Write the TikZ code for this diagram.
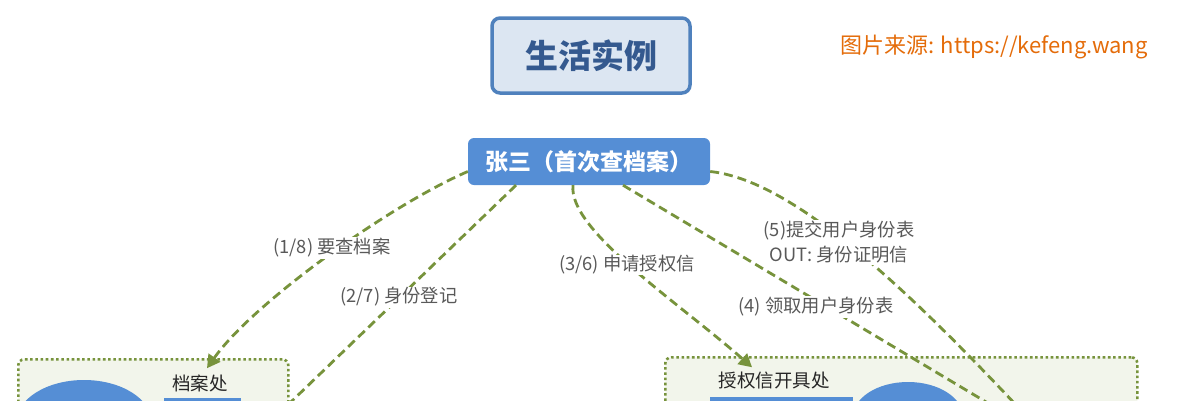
\documentclass[tikz,border=0pt]{standalone}
\usepackage{fontspec}
\setmainfont{Noto Sans CJK SC}
\usetikzlibrary{arrows.meta,calc,shapes.geometric}
\definecolor{lineol}{HTML}{77933C}
\definecolor{groupfill}{HTML}{F2F5EB}
\definecolor{boxblue}{HTML}{558ED5}
\definecolor{titlefill}{HTML}{DCE6F2}
\definecolor{titleline}{HTML}{4F81BD}
\definecolor{titletext}{HTML}{34598F}
\definecolor{labelgray}{HTML}{595959}
\definecolor{wmorange}{HTML}{E46C0A}
\begin{document}
\begin{tikzpicture}[x=1pt,y=-1pt,
  conn/.style={draw=lineol, line width=2.8pt, dash pattern=on 9pt off 5pt},
  tiparrow/.style={-{Triangle[length=13pt,width=14pt,fill=lineol]}},
  lbl/.style={fill=white, text=labelgray, font=\fontsize{18.3}{25}\selectfont, inner sep=1pt, align=center},
  group/.style={draw=lineol, fill=groupfill, line width=2.6pt, dash pattern=on 2.6pt off 2.6pt, rounded corners=6pt, inner sep=0pt},
  blueshape/.style={fill=boxblue, draw=none, inner sep=0pt},
  grouptitle/.style={text=black!85, font=\fontsize{18.5}{22}\selectfont, inner sep=1pt},
]
\useasboundingbox (0,0) rectangle (1181,400);
\clip (0,0) rectangle (1181,400);

% group boxes
\node[group, minimum width=270pt, minimum height=120pt, anchor=north west] (lgrp) at (17,358) {};
\node[group, minimum width=472pt, minimum height=120pt, anchor=north west] (rgrp) at (664,356) {};

% contents of groups
\node[blueshape, ellipse, minimum width=136pt, minimum height=86pt] (lell) at (84,423) {};
\node[blueshape, minimum width=77pt, minimum height=20pt, anchor=north west] (lbar) at (164,398) {};
\node[grouptitle] (lt) at (200,383) {档案处};

\node[blueshape, ellipse, minimum width=110pt, minimum height=70pt] (rell) at (908,417) {};
\node[blueshape, minimum width=143pt, minimum height=20pt, anchor=north west] (rbar) at (710,397) {};
\node[grouptitle] (rt) at (774,381) {授权信开具处};

% title and watermark
\node[draw=titleline, line width=3.5pt, fill=titlefill, rounded corners=8pt,
      minimum width=198pt, minimum height=75pt, text=titletext,
      font=\bfseries\fontsize{33}{40}\selectfont] (title) at (591,55.5) {生活实例};
\node[text=wmorange, font=\fontsize{22}{26}\selectfont, inner sep=0pt] (wm) at (994,47) {图片来源: https://kefeng.wang};

% main person node
\node[fill=boxblue, rounded corners=6pt, minimum width=242pt, minimum height=47pt,
      text=white, font=\bfseries\fontsize{23}{28}\selectfont] (zs) at (589,161.5) {张三（首次查档案）};

% free ends below the picture
\coordinate (bend) at (267,425);
\coordinate (dend) at (1033,430);
\coordinate (eend) at (1030,420);

% connectors
\draw[conn, tiparrow] ($(zs.west)+(0,10)$) .. controls (390,205) and (253,303) .. ($(lt.north)+(7,-5)$);
\draw[conn] ($(zs.south)+(-73,0)$) -- (bend);
\draw[conn, tiparrow] ($(zs.south)+(-16,0)$) .. controls (568,230) and (678,302) .. ($(rt.north)+(-22,-4)$);
\draw[conn] ($(zs.south)+(34,0)$) -- (dend);
\draw[conn] ($(zs.east)+(0,10)$) .. controls (790,180) and (900,280) .. (eend);

% labels
\node[lbl] (l1) at (332,248) {(1/8) 要查档案};
\node[lbl] (l2) at (399,297) {(2/7) 身份登记};
\node[lbl] (l3) at (627,265) {(3/6) 申请授权信};
\node[lbl] (l5) at (839,242.5) {(5)提交用户身份表\\OUT: 身份证明信};
\node[lbl] (l4) at (816,307) {(4) 领取用户身份表};
\end{tikzpicture}
\end{document}
